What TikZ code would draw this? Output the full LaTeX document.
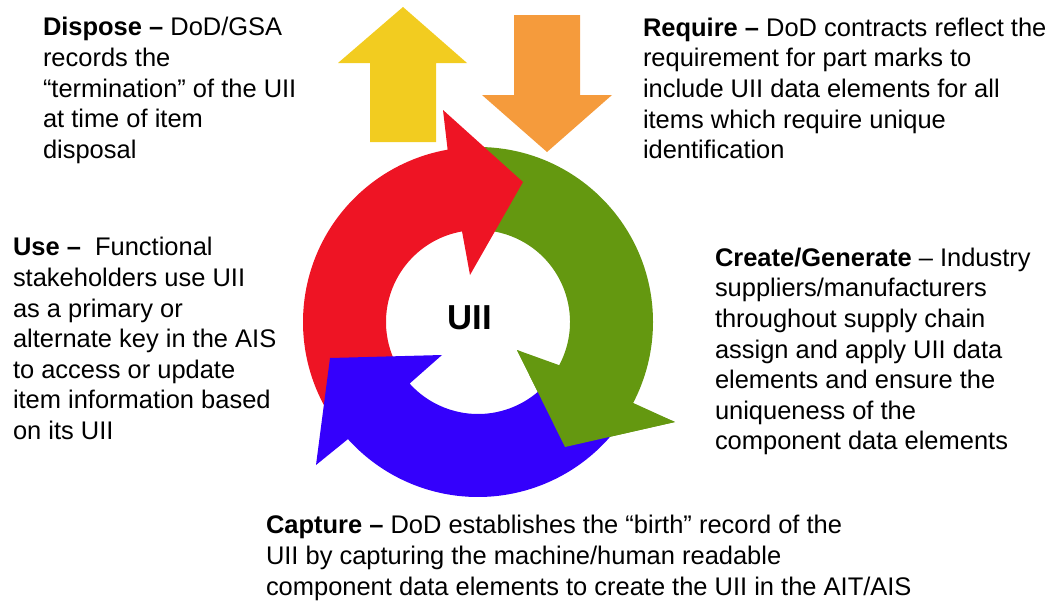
\documentclass[tikz,border=0pt]{standalone}
\usepackage{fontspec}
\setmainfont{Liberation Sans}
\usetikzlibrary{calc}
\definecolor{cred}{RGB}{238,20,36}
\definecolor{cgreen}{RGB}{100,152,16}
\definecolor{cblue}{RGB}{52,0,252}
\definecolor{cyellow}{RGB}{242,204,32}
\definecolor{corange}{RGB}{245,155,60}
\tikzset{
  desc/.style={anchor=north west, inner sep=0pt, outer sep=0pt, align=left,
    font=\fontsize{19.1}{22.9}\selectfont},
}
\begin{document}
\begin{tikzpicture}[x=0.75pt,y=-0.75pt]
\useasboundingbox (0,0) rectangle (1060,603);
\coordinate (c) at (478,322);
% up / down arrows
\fill[cyellow] (403,7) -- (467,63) -- (436,63) -- (436,142) -- (370,142) -- (370,63) -- (338,63) -- cycle;
\fill[corange] (514,15) -- (580,15) -- (580,95) -- (612,95) -- (547,152) -- (482,95) -- (514,95) -- cycle;
% green arrow
\fill[cgreen] ($(c)+(270:175)$) arc[start angle=270,end angle=388,radius=175]
  -- (675,422) -- (565,447) -- (517,350)
  -- ($(c)+(388:92)$) arc[start angle=388,end angle=270,radius=92] -- cycle;
% red arrow
\fill[cred] ($(c)+(140:175)$) arc[start angle=140,end angle=260,radius=175]
  -- (443,110) -- (523,182) -- (470,275)
  -- ($(c)+(260:92)$) arc[start angle=260,end angle=140,radius=92] -- cycle;
% blue arrow
\fill[cblue] ($(c)+(35:175)$) arc[start angle=35,end angle=138,radius=175]
  -- (316,465) -- (330,358) -- (442,355)
  -- ($(c)+(138:92)$) arc[start angle=138,end angle=35,radius=92] -- cycle;
% green head again on top of blue tail
\fill[cgreen] (517,350) -- (675,422) -- (565,447) -- cycle;
% centre label
\node[font=\fontsize{26}{30}\selectfont\bfseries, inner sep=0pt] (uii) at (470,318) {UII};
% descriptions
\node[desc] (dispose) at (43,17.5) {\textbf{Dispose –} DoD/GSA\\records the\\“termination” of the UII\\at time of item\\disposal};
\node[desc] (require) at (643,18) {\textbf{Require –} DoD contracts reflect the\\requirement for part marks to\\include UII data elements for all\\items which require unique\\identification};
\node[desc] (use) at (13,237.5) {\textbf{Use –}\ \ Functional\\stakeholders use UII\\as a primary or\\alternate key in the AIS\\to access or update\\item information based\\on its UII};
\node[desc] (create) at (715,248) {\textbf{Create/Generate} – Industry\\suppliers/manufacturers\\throughout supply chain\\assign and apply UII data\\elements and ensure the\\uniqueness of the\\component data elements};
\node[desc] (capture) at (266,515.5) {\textbf{Capture –} DoD establishes the “birth” record of the\\UII by capturing the machine/human readable\\component data elements to create the UII in the AIT/AIS};
\end{tikzpicture}
\end{document}
